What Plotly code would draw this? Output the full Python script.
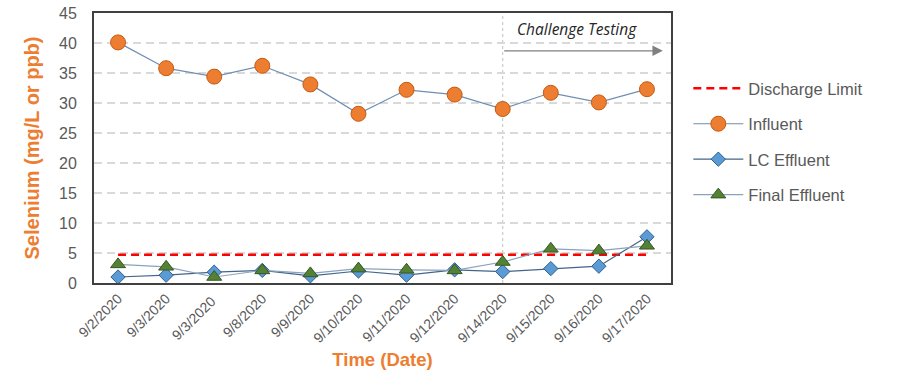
import plotly.graph_objects as go

dates = ["9/2/2020", "9/3/2020", "9/3/2020 ", "9/8/2020", "9/9/2020", "9/10/2020",
         "9/11/2020", "9/12/2020", "9/14/2020", "9/15/2020", "9/16/2020", "9/17/2020"]
discharge_limit = [4.7, 4.7, 4.7, 4.7, 4.7, 4.7, 4.7, 4.7, 4.7, 4.7, 4.7, 4.7]
influent = [40.1, 35.8, 34.4, 36.2, 33.1, 28.2, 32.2, 31.4, 29.0, 31.7, 30.1, 32.3]
lc_effluent = [1.0, 1.3, 1.8, 2.1, 1.2, 2.0, 1.3, 2.2, 1.9, 2.4, 2.8, 7.7]
final_effluent = [3.1, 2.7, 1.0, 2.1, 1.6, 2.4, 2.2, 2.1, 3.5, 5.7, 5.4, 6.2]
y_ticks = [0, 5, 10, 15, 20, 25, 30, 35, 40, 45]
challenge_start = "9/14/2020"

gray = "#595959"
orange = "#ED7D31"

fig = go.Figure()
fig.add_trace(go.Scatter(x=dates, y=discharge_limit, name="Discharge Limit", mode="lines",
                         line=dict(color="#FF0000", width=2.5, dash="8px,5px"),
                         legendgroup="a"))
fig.add_trace(go.Scatter(x=dates, y=influent, name="Influent", mode="lines+markers",
                         line=dict(color="#6d8fb3", width=1.2),
                         marker=dict(symbol="circle", size=15, color=orange,
                                     line=dict(color="#C55A11", width=1)),
                         legendgroup="b"))
fig.add_trace(go.Scatter(x=dates, y=lc_effluent, name="LC Effluent", mode="lines+markers",
                         line=dict(color="#44648a", width=1.2),
                         marker=dict(symbol="diamond", size=11, color="#5B9BD5",
                                     line=dict(color="#2E5F8E", width=1)),
                         legendgroup="c"))
fig.add_trace(go.Scatter(x=dates, y=final_effluent, name="Final Effluent", mode="lines+markers",
                         line=dict(color="#8aa2bf", width=1.2),
                         marker=dict(symbol="triangle-up", size=13, color="#548235",
                                     line=dict(color="#375623", width=1)),
                         legendgroup="d"))

fig.add_shape(type="line", xref="x", yref="paper", x0=challenge_start, x1=challenge_start,
              y0=0, y1=1, line=dict(color="#bfbfbf", width=1, dash="3px,3px"), layer="below")
fig.add_annotation(x=11.33, y=38.7, ax=8, ay=38.7, xref="x", yref="y", axref="x", ayref="y",
                   showarrow=True, arrowhead=2, arrowsize=1.6, arrowwidth=1.3,
                   arrowcolor="#808080", text="")
fig.add_annotation(x=9.54, y=42.4, xref="x", yref="y", showarrow=False,
                   text="<i>Challenge Testing</i>",
                   font=dict(family="Open Sans, Arial", size=15.5, color="#262626"))

fig.update_layout(
    width=900, height=386,
    margin=dict(l=94, r=229, t=13, b=103, autoexpand=False),
    paper_bgcolor="white", plot_bgcolor="white",
    font=dict(family="Liberation Sans, Arial", color=gray),
    legend=dict(x=1.03, y=0.785, xanchor="left", yanchor="top",
                font=dict(size=16.5, color=gray), tracegroupgap=11,
                itemwidth=50, bgcolor="rgba(0,0,0,0)"),
    showlegend=True,
)
fig.update_xaxes(type="category", range=[-0.5, 11.5], tickangle=-45, automargin=False,
                 tickfont=dict(size=14, color=gray), ticklabeloverflow="allow",
                 showgrid=False, showline=True, linecolor="#404040", linewidth=2, mirror=True,
                 ticks="", title=dict(text="<b>Time (Date)</b>",
                                      font=dict(size=18.5, color=orange), standoff=8))
fig.update_yaxes(range=[0, 45], tickvals=y_ticks, tickfont=dict(size=16, color=gray),
                 automargin=False, ticklabeloverflow="allow",
                 showgrid=True, gridcolor="#d9d9d9", griddash="8px,5px", gridwidth=1.5,
                 showline=True, linecolor="#404040", linewidth=2, mirror=True,
                 zeroline=False, ticks="", ticklabelstandoff=12,
                 title=dict(text="<b>Selenium (mg/L or ppb)</b>",
                            font=dict(size=20, color=orange), standoff=14))

fig.write_html("out.html", config={"displayModeBar": False},
               post_script="document.body.style.margin='0';document.body.style.overflow='hidden';")
